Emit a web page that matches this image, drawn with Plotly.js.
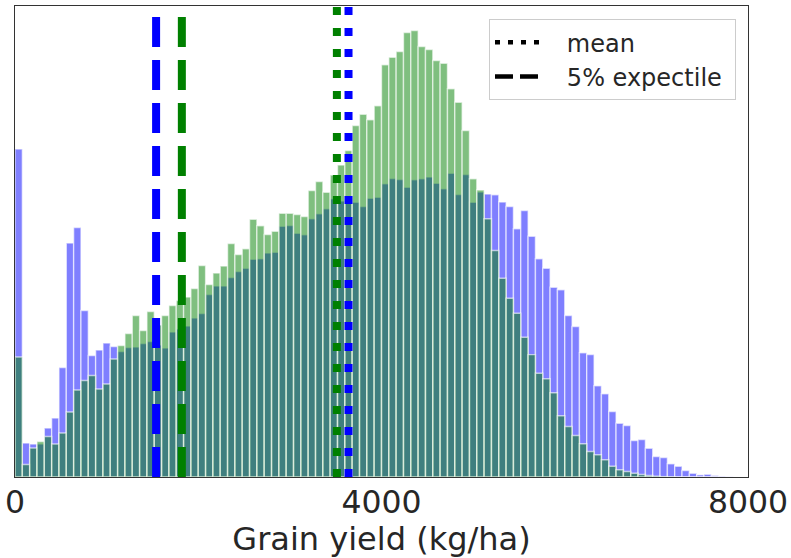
<!DOCTYPE html>
<html>
<head>
<meta charset="utf-8">
<script src="https://cdn.plot.ly/plotly-3.0.1.min.js"></script>
<style>html,body{margin:0;padding:0;background:#fff;}#chart{width:791px;height:558px;}</style>
</head>
<body>
<div id="chart"></div>
<script>
// Histogram bins: width 80 kg/ha, starting at 0
const binWidth = 80;
const binStarts = Array.from({length: 100}, (_, i) => i * binWidth);

// Blue series counts (relative units)
const blueCounts = [
  328, 34, 33, 33, 49, 59, 109.5, 234, 249.5, 166.5,
  121.5, 127, 134, 130.5, 125.5, 129.5, 130, 133.5, 135.5, 132,
  129, 145, 148, 151, 159, 163.5, 182.5, 191, 191, 199.5,
  205.5, 208.8, 217.8, 218.2, 224, 224.8, 250.8, 251.5, 243.8, 242.2,
  258.2, 263.2, 268.2, 278.2, 276, 274, 274.8, 270.5, 278.7, 279.8,
  293.2, 298.5, 297.5, 289.8, 297.2, 298.2, 300, 293.8, 288.2, 303.8,
  282.5, 302.5, 274.8, 285, 283, 282.3, 275, 270.5, 248.2, 266.5,
  240.8, 218.2, 208.8, 189.8, 187.2, 161.5, 150.5, 124.2, 122.5, 91.2,
  83.2, 65.5, 53.8, 51.5, 36.5, 37.5, 28.8, 20.5, 19.5, 13.2,
  10.8, 6.5, 3.8, 2.2, 2.8, 1.5, 0.7, 0.3, 0, 0
];

// Green series counts (relative units)
const greenCounts = [
  120, 12.5, 29, 35.5, 40.5, 33, 44, 65, 87, 96.5,
  101.5, 88, 93, 118, 131.5, 143.5, 161.5, 146.5, 165.5, 152,
  161.5, 171.5, 176.5, 180, 188.5, 211.5, 192.5, 204, 211, 233.5,
  222.5, 228.3, 257.8, 251.2, 242.5, 245.8, 263.8, 263.8, 262.5, 260.5,
  286.5, 295.5, 284.8, 302, 312, 326.5, 351.5, 362.8, 357.3, 371.3,
  412.2, 419.8, 425.5, 444.5, 446.5, 430.5, 427.5, 416.5, 413.8, 388.2,
  374.8, 346.5, 298.2, 287, 258.2, 226.5, 198.8, 178.8, 163.8, 139.8,
  122.4, 103.8, 98.2, 84.2, 61.2, 50.5, 41.5, 33.2, 25.5, 22.2,
  17.2, 10.8, 7.2, 5.5, 3.8, 2.5, 1.5, 0.8, 0.4, 0.2,
  0, 0, 0, 0, 0, 0, 0, 0, 0, 0
];

// Reference lines (kg/ha)
const blueMean = 3640;
const greenMean = 3513;
const blueExpectile = 1540;
const greenExpectile = 1821;

const xTickVals = [0, 4000, 8000];
const xTickText = ['0', '4000', '8000'];
const xLabel = 'Grain yield (kg/ha)';
const legendLabels = ['mean', '5% expectile'];

const binCenters = binStarts.map(s => s + binWidth / 2);

const edge = {color: 'rgba(255,255,255,0.6)', width: 1.4};
const pad = '\u00A0\u00A0\u00A0';

const traces = [
  {
    type: 'bar', x: binCenters, y: blueCounts, width: binWidth,
    marker: {color: 'rgba(0,0,255,0.5)', line: edge},
    showlegend: false, hoverinfo: 'skip'
  },
  {
    type: 'bar', x: binCenters, y: greenCounts, width: binWidth,
    marker: {color: 'rgba(0,128,0,0.5)', line: edge},
    showlegend: false, hoverinfo: 'skip'
  },
  {
    type: 'scatter', mode: 'lines', x: [null], y: [null], name: pad + legendLabels[0],
    line: {color: 'black', width: 4.5, dash: '5px,8px'}
  },
  {
    type: 'scatter', mode: 'lines', x: [null], y: [null], name: pad + legendLabels[1] + '\u00A0',
    line: {color: 'black', width: 4.5, dash: '18px,7px'}
  }
];

function vline(x, color, dash) {
  return {type: 'line', xref: 'x', yref: 'paper', x0: x, x1: x, y0: 0, y1: 1,
          line: {color: color, width: 8, dash: dash}, layer: 'above'};
}

const dotted = '8px,13px';
const dashed = '30px,13px';

const layout = {
  width: 791, height: 558,
  margin: {l: 15, r: 43, t: 6, b: 81, pad: 0},
  paper_bgcolor: 'white', plot_bgcolor: 'white',
  barmode: 'overlay', bargap: 0,
  font: {family: 'DejaVu Sans', color: '#262626'},
  xaxis: {
    range: [0, 8000], tickvals: xTickVals, ticktext: xTickText,
    ticks: '', showgrid: false, zeroline: false,
    showline: true, mirror: true, linecolor: '#333333', linewidth: 1.3,
    ticklabelstandoff: -3,
    tickfont: {size: 31.5, family: 'DejaVu Sans', color: '#262626'},
    title: {text: xLabel, font: {size: 32, family: 'DejaVu Sans', color: '#262626'}, standoff: 8}
  },
  yaxis: {
    range: [0, 471], showticklabels: false, ticks: '', showgrid: false, zeroline: false,
    showline: true, mirror: true, linecolor: '#333333', linewidth: 1.3
  },
  showlegend: true,
  legend: {
    x: 0.9836, xanchor: 'right', y: 0.972, yanchor: 'top',
    bgcolor: 'rgba(255,255,255,0.8)', bordercolor: '#cccccc', borderwidth: 1,
    font: {size: 24, family: 'DejaVu Sans', color: '#262626'},
    itemwidth: 44, tracegroupgap: 0
  },
  shapes: [
    vline(blueExpectile, 'blue', dashed),
    vline(greenExpectile, 'green', dashed),
    vline(greenMean, 'green', dotted),
    vline(blueMean, 'blue', dotted)
  ]
};

Plotly.newPlot('chart', traces, layout, {staticPlot: true, displayModeBar: false});
</script>
</body>
</html>
